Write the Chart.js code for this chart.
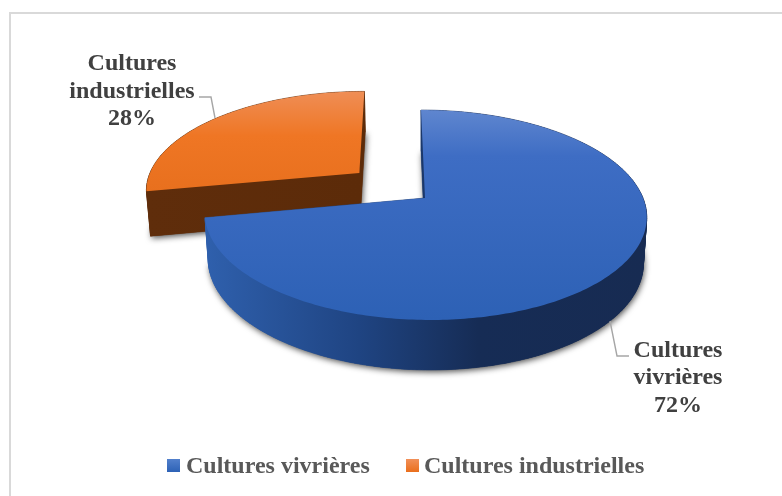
<!DOCTYPE html>
<html lang="fr">
<head>
<meta charset="utf-8">
<title>Cultures</title>
<style>
  html, body { margin: 0; padding: 0; background: #fff; }
  #wrap { position: relative; width: 782px; height: 496px; }
</style>
<script src="https://cdn.jsdelivr.net/npm/chart.js@4/dist/chart.umd.min.js"></script>
</head>
<body>
<div id="wrap"><canvas id="chart-cult" width="782" height="496"></canvas></div>
<script>
const categories = ['Cultures vivrières', 'Cultures industrielles'];
const values = [72, 28];
const labelLines = [['Cultures', 'vivrières', '72%'], ['Cultures', 'industrielles', '28%']];
const baseColors = ['#2f63b8', '#ee7522'];

const FONT = 'bold 24px "Liberation Serif", serif';

// plane of the pie seen in perspective: unit circle -> screen
const VIEW = { cx: 425, cy: 198, rx: 218, ry: 102.2, k: 0.162, skew: 4.6, depth: 45.3, depthK: 0.094, shrink: 0.985 };

// per-slice shading
const faceStops = [
  { y0: 110, y1: 320, stops: [[0, '#5f86cf'], [0.22, '#3e6dc4'], [1, '#2d61b5']] },
  { y0: 91, y1: 191, stops: [[0, '#ef8e56'], [0.45, '#ef7624'], [1, '#e8701e']] }
];
const wallStops = [
  { x0: 205, x1: 646, stops: [[0, '#2f60ad'], [0.35, '#1f4482'], [0.62, '#162c55'], [1, '#172b52']] },
  { x0: 147, x1: 362, stops: [[0, '#5f2d0b'], [1, '#5c2b09']] }
];

function project(u, v, lower) {
  const w = 1 - VIEW.k * v;
  const s = lower ? VIEW.shrink : 1;
  return {
    x: VIEW.cx + s * (VIEW.rx * u + VIEW.skew * v) / w,
    y: VIEW.cy + VIEW.ry * v / w + (lower ? VIEW.depth / (1 - VIEW.depthK * v) : 0)
  };
}

// apex + rim of an arc element, in unit-circle coordinates
function sliceOutline(arc) {
  const mid = (arc.startAngle + arc.endAngle) / 2;
  const ex = (arc.options.offset || 0) / arc.outerRadius;
  const ou = Math.cos(mid) * ex, ov = Math.sin(mid) * ex;
  const pts = [{ u: ou, v: ov }];
  const n = Math.ceil((arc.endAngle - arc.startAngle) * 60);
  for (let i = 0; i <= n; i++) {
    const a = arc.startAngle + (arc.endAngle - arc.startAngle) * i / n;
    pts.push({ u: ou + Math.cos(a), v: ov + Math.sin(a) });
  }
  return pts;
}

function tracePoly(ctx, pts, lower) {
  ctx.beginPath();
  pts.forEach((p, i) => {
    const q = project(p.u, p.v, lower);
    if (i) ctx.lineTo(q.x, q.y); else ctx.moveTo(q.x, q.y);
  });
  ctx.closePath();
}

function makeGradient(ctx, x0, y0, x1, y1, stops) {
  const g = ctx.createLinearGradient(x0, y0, x1, y1);
  stops.forEach(s => g.addColorStop(s[0], s[1]));
  return g;
}

function drawSlice(ctx, arc, i) {
  const pts = sliceOutline(arc);
  const wall = wallStops[i], face = faceStops[i];
  const wallFill = makeGradient(ctx, wall.x0, 0, wall.x1, 0, wall.stops);

  // lower plane, carries the soft shadow
  ctx.save();
  ctx.shadowColor = 'rgba(0,0,0,0.7)';
  ctx.shadowBlur = 6;
  ctx.shadowOffsetX = 1;
  ctx.shadowOffsetY = 2;
  ctx.fillStyle = wallFill;
  tracePoly(ctx, pts, true);
  ctx.fill();
  ctx.restore();

  // side walls
  ctx.fillStyle = wallFill;
  ctx.strokeStyle = wallFill;
  ctx.lineWidth = 0.6;
  pts.forEach((p, j) => {
    const q = pts[(j + 1) % pts.length];
    const a = project(p.u, p.v, false), b = project(q.u, q.v, false);
    const c = project(q.u, q.v, true), d = project(p.u, p.v, true);
    ctx.beginPath();
    ctx.moveTo(a.x, a.y); ctx.lineTo(b.x, b.y); ctx.lineTo(c.x, c.y); ctx.lineTo(d.x, d.y);
    ctx.closePath();
    ctx.fill();
    ctx.stroke();
  });

  // top face
  ctx.fillStyle = makeGradient(ctx, 0, face.y0, 0, face.y1, face.stops);
  tracePoly(ctx, pts, false);
  ctx.fill();
}

const pie3d = {
  id: 'pie3d',
  beforeDraw(chart) {
    // chart frame, only top and left edges show
    const ctx = chart.ctx;
    ctx.save();
    ctx.fillStyle = '#d9d9d9';
    ctx.fillRect(9, 12, 773, 2);
    ctx.fillRect(9, 12, 2, 484);
    ctx.restore();
  },
  beforeDatasetsDraw(chart) {
    const ctx = chart.ctx;
    const arcs = chart.getDatasetMeta(0).data;
    ctx.save();
    // orange sits behind the blue one
    for (let i = arcs.length - 1; i >= 0; i--) drawSlice(ctx, arcs[i], i);
    ctx.restore();
    return false;
  },
  afterDraw(chart) {
    const ctx = chart.ctx;
    ctx.save();

    // leader lines
    ctx.strokeStyle = '#a6a6a6';
    ctx.lineWidth = 1.4;
    [[[610, 321], [617, 356], [629, 356]], [[199, 97], [211, 97], [215, 118]]].forEach(l => {
      ctx.beginPath();
      l.forEach((p, j) => j ? ctx.lineTo(p[0], p[1]) : ctx.moveTo(p[0], p[1]));
      ctx.stroke();
    });

    // data labels
    ctx.font = FONT;
    ctx.fillStyle = '#404040';
    ctx.textAlign = 'center';
    ctx.textBaseline = 'alphabetic';
    const anchors = [{ x: 678, y: [357, 384, 412] }, { x: 132, y: [70, 98, 125] }];
    labelLines.forEach((lines, i) => {
      lines.forEach((t, j) => ctx.fillText(t, anchors[i].x, anchors[i].y[j]));
    });

    // legend
    const keys = [{ box: 167, text: 186 }, { box: 406, text: 424 }];
    const swatch = [['#5280cc', '#2d62b6'], ['#f19059', '#ea6f1c']];
    ctx.textAlign = 'left';
    categories.forEach((c, i) => {
      const g = ctx.createLinearGradient(0, 459, 0, 472);
      g.addColorStop(0, swatch[i][0]);
      g.addColorStop(1, swatch[i][1]);
      ctx.fillStyle = g;
      ctx.fillRect(keys[i].box, 459, 13, 13);
      ctx.fillStyle = '#595959';
      ctx.fillText(c, keys[i].text, 473);
    });
    ctx.restore();
  }
};

new Chart(document.getElementById('chart-cult'), {
  type: 'pie',
  data: {
    labels: categories,
    datasets: [{ data: values, backgroundColor: baseColors, borderWidth: 0, offset: [0, 40] }]
  },
  options: {
    responsive: false,
    animation: false,
    radius: 100,
    plugins: { legend: { display: false }, tooltip: { enabled: false } }
  },
  plugins: [pie3d]
});
</script>
</body>
</html>
